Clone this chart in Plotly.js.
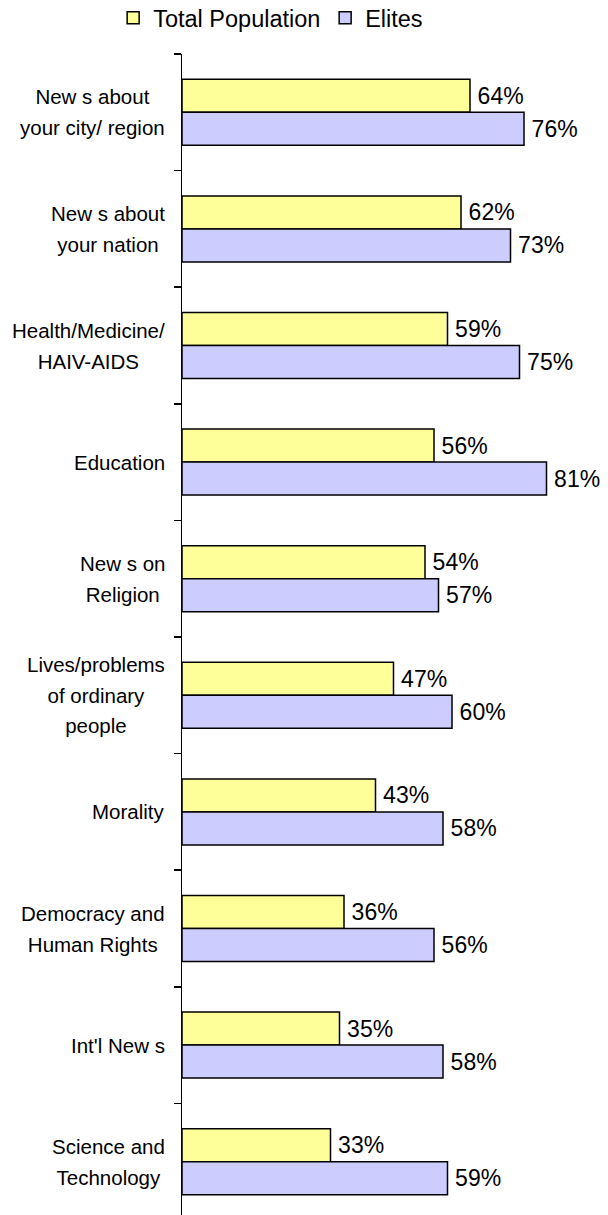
<!DOCTYPE html>
<html>
<head>
<meta charset="utf-8">
<script src="https://cdn.plot.ly/plotly-3.0.1.min.js"></script>
<style>html,body{margin:0;padding:0;background:#fff;}#chart{width:608px;height:1215px;}</style>
</head>
<body>
<div id="chart"></div>
<script>
const categories = [
  "New s about<br>your city/ region",
  "New s about<br>your nation",
  "Health/Medicine/<br>HAIV-AIDS",
  "Education",
  "New s on<br>Religion",
  "Lives/problems<br>of ordinary<br>people",
  "Morality",
  "Democracy and<br>Human Rights",
  "Int'l New s",
  "Science and<br>Technology"
];
const totalPopulation = [64, 62, 59, 56, 54, 47, 43, 36, 35, 33];
const elites = [76, 73, 75, 81, 57, 60, 58, 56, 58, 59];
const seriesNames = ["Total Population", "Elites"];

const FONT = "Arial, 'Liberation Sans', sans-serif";

function barTrace(name, values, color) {
  return {
    type: "bar",
    orientation: "h",
    name: name,
    y: categories,
    x: values,
    marker: {color: color, line: {color: "#000", width: 1.5}},
    texttemplate: "\u2009%{x}%",
    textposition: "outside",
    constraintext: "none",
    cliponaxis: false,
    textfont: {family: FONT, size: 23, color: "#000"},
    hoverinfo: "skip"
  };
}

const data = [
  barTrace(seriesNames[0], totalPopulation, "#FFFF99"),
  barTrace(seriesNames[1], elites, "#CCCCFF")
];

const annotations = categories.map(c => ({
  xref: "paper", yref: "y",
  x: -0.037, y: c,
  xanchor: "right", yanchor: "middle",
  align: "center",
  showarrow: false,
  text: '<span style="font-size:20.5px">' + c + '</span>',
  font: {family: FONT, size: 23.5, color: "#000"}
}));

const layout = {
  width: 608, height: 1215,
  margin: {l: 182, r: 21, t: 54, b: 0, pad: 0, autoexpand: false},
  paper_bgcolor: "#fff", plot_bgcolor: "#fff",
  barmode: "group",
  bargap: 0.434,
  bargroupgap: 0,
  showlegend: true,
  legend: {
    orientation: "h",
    x: -0.17, xanchor: "left",
    y: 1.031, yanchor: "middle",
    entrywidth: 167, entrywidthmode: "pixels",
    font: {family: FONT, size: 23.5, color: "#000"},
    itemclick: false, itemdoubleclick: false,
    bgcolor: "rgba(0,0,0,0)",
    traceorder: "normal"
  },
  xaxis: {
    range: [0, 90],
    showgrid: false, zeroline: false, showline: false,
    showticklabels: false, ticks: "", fixedrange: true
  },
  yaxis: {
    type: "category",
    range: [9.457, -0.5],
    showgrid: false, zeroline: false,
    showline: true, linecolor: "#000", linewidth: 1.5,
    ticks: "outside", ticklen: 7, tickwidth: 1.5, tickcolor: "#000",
    tickson: "boundaries",
    showticklabels: false, fixedrange: true
  },
  annotations: annotations,
  font: {family: FONT}
};

Plotly.newPlot("chart", data, layout, {displayModeBar: false, staticPlot: true});
</script>
</body>
</html>
